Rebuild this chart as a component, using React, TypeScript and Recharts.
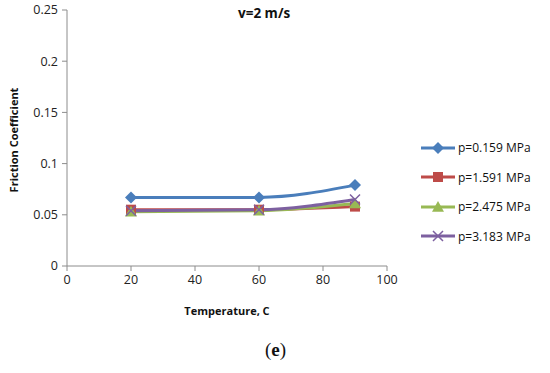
import React from 'react';
import { LineChart, Line, XAxis, YAxis } from 'recharts';

const temperatures = [20, 60, 90];
const p0159 = [0.067, 0.067, 0.079];
const p1591 = [0.055, 0.055, 0.058];
const p2475 = [0.053, 0.054, 0.061];
const p3183 = [0.054, 0.055, 0.065];
const xTicks = [0, 20, 40, 60, 80, 100];
const yTicks = [0, 0.05, 0.1, 0.15, 0.2, 0.25];

const data = temperatures.map((t, i) => ({ t, a: p0159[i], b: p1591[i], c: p2475[i], d: p3183[i] }));

const FONT = '"Open Sans", "Liberation Sans", sans-serif';

type Shape = 'diamond' | 'square' | 'triangle' | 'x';

const Marker = ({ cx, cy, shape, color }: { cx: number; cy: number; shape: Shape; color: string }) => {
  if (cx == null || cy == null) return null;
  if (shape === 'diamond') {
    const r = 6;
    return <path d={`M${cx},${cy - r}L${cx + r},${cy}L${cx},${cy + r}L${cx - r},${cy}Z`} fill={color} />;
  }
  if (shape === 'square') {
    const r = 5;
    return <rect x={cx - r} y={cy - r} width={2 * r} height={2 * r} fill={color} />;
  }
  if (shape === 'triangle') {
    const r = 6;
    return <path d={`M${cx},${cy - r}L${cx + r},${cy + r * 0.8}L${cx - r},${cy + r * 0.8}Z`} fill={color} />;
  }
  const r = 5;
  return (
    <path d={`M${cx - r},${cy - r}L${cx + r},${cy + r}M${cx - r},${cy + r}L${cx + r},${cy - r}`} stroke={color} strokeWidth={1.5} fill="none" />
  );
};

const series: { key: string; name: string; color: string; shape: Shape }[] = [
  { key: 'a', name: 'p=0.159 MPa', color: '#4a7ebb', shape: 'diamond' },
  { key: 'b', name: 'p=1.591 MPa', color: '#be4b48', shape: 'square' },
  { key: 'c', name: 'p=2.475 MPa', color: '#98b954', shape: 'triangle' },
  { key: 'd', name: 'p=3.183 MPa', color: '#7d60a0', shape: 'x' },
];

const LegendBox = () => (
  <div style={{ position: 'absolute', left: 421, top: 133, fontFamily: FONT, fontSize: 12, color: '#111' }}>
    {series.map((s) => (
      <div key={s.key} style={{ display: 'flex', alignItems: 'center', height: 29.5 }}>
        <svg width={36} height={14}>
          <line x1={0} y1={7} x2={34} y2={7} stroke={s.color} strokeWidth={3} />
          <Marker cx={17} cy={7} shape={s.shape} color={s.color} />
        </svg>
        <span style={{ marginLeft: 1 }}>{s.name}</span>
      </div>
    ))}
  </div>
);

export default function App() {
  return (
    <div style={{ position: 'absolute', left: 0, top: 0, width: 550, height: 373, background: '#fff' }}>
      <LineChart width={550} height={373} data={data} margin={{ top: 10, right: 163, bottom: 47, left: 17 }}>
        <XAxis
          dataKey="t"
          type="number"
          domain={[0, 100]}
          ticks={xTicks}
          interval={0}
          stroke="#8c8c8c"
          tickSize={5}
          tick={{ fill: '#222', fontSize: 12.5, fontFamily: FONT }}
          tickMargin={4}
          label={{ value: 'Temperature, C', position: 'insideBottom', offset: 11, style: { fontFamily: FONT, fontSize: 11, fontWeight: 700, fill: '#111' } }}
          height={60}
        />
        <YAxis
          type="number"
          domain={[0, 0.25]}
          ticks={yTicks}
          interval={0}
          stroke="#8c8c8c"
          tickSize={5}
          width={50}
          tickMargin={4}
          tick={{ fill: '#222', fontSize: 12.5, fontFamily: FONT }}
          tickFormatter={(v: number) => String(v)}
        />
        {series.map((s) => (
          <Line
            key={s.key}
            dataKey={s.key}
            name={s.name}
            type="monotone"
            stroke={s.color}
            strokeWidth={3}
            isAnimationActive={false}
            dot={(props: any) => <Marker key={`${s.key}-${props.index}`} cx={props.cx} cy={props.cy} shape={s.shape} color={s.color} />}
          />
        ))}
      </LineChart>
      <LegendBox />
      <div style={{ position: 'absolute', left: 238, top: 4, fontFamily: FONT, fontSize: 13.5, fontWeight: 700, color: '#111' }}>v=2 m/s</div>
      <div
        style={{
          position: 'absolute',
          left: 13,
          top: 140,
          transform: 'translate(-50%, -50%) rotate(-90deg)',
          whiteSpace: 'nowrap',
          fontFamily: FONT,
          fontSize: 11,
          fontWeight: 700,
          color: '#111',
        }}
      >
        Friction Coefficient
      </div>
      <div style={{ position: 'absolute', left: 265, top: 339, fontFamily: '"Liberation Serif", serif', fontSize: 19, color: '#111' }}>
        (<b>e</b>)
      </div>
    </div>
  );
}
